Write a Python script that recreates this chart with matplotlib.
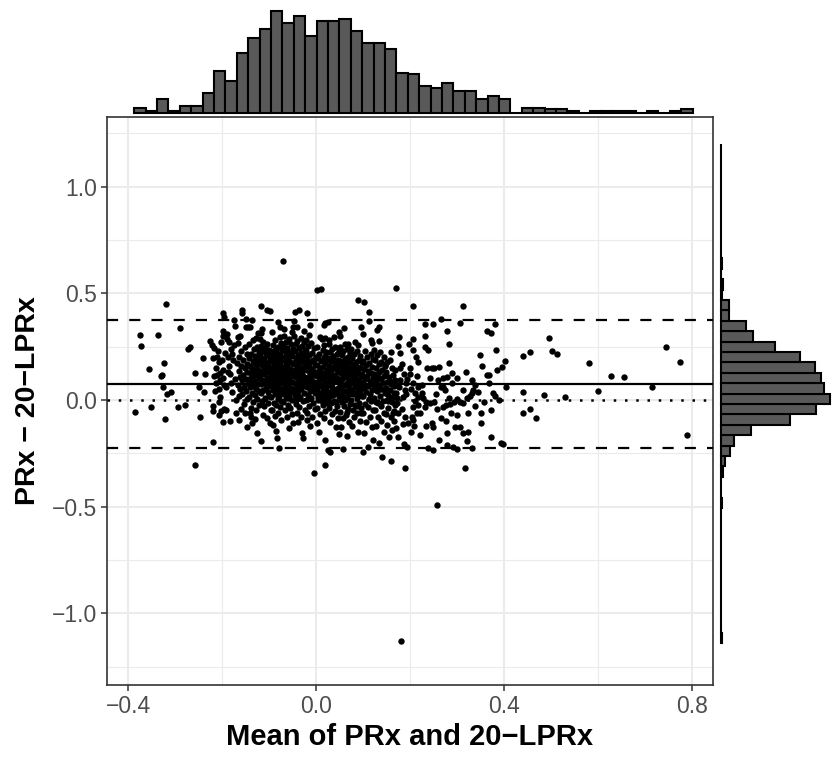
import numpy as np
import matplotlib.pyplot as plt

plt.rcParams['font.family'] = ['Liberation Sans', 'DejaVu Sans']

# Bland-Altman points: (mean of PRx and 20-LPRx, PRx - 20-LPRx)
left_pts = [
    (-0.385, -0.055), (-0.374, 0.305), (-0.372, 0.253), (-0.352, -0.034), (-0.355, 0.145),
    (-0.336, 0.305), (-0.330, 0.112), (-0.327, 0.118), (-0.326, 0.062), (-0.324, 0.172),
    (-0.322, -0.089), (-0.320, 0.450), (-0.317, 0.030), (-0.309, 0.037), (-0.294, -0.034),
    (-0.289, 0.339), (-0.279, -0.022), (-0.272, 0.239), (-0.268, 0.247),
    (-0.257, 0.128), (-0.257, -0.305), (-0.249, 0.062), (-0.247, -0.078),
    (-0.241, 0.195), (-0.238, 0.036), (-0.236, 0.122), (-0.226, 0.278), (-0.221, 0.258),
    (-0.220, 0.195), (-0.220, -0.028), (-0.220, -0.050), (-0.220, -0.197), (-0.218, 0.242),
    (-0.218, 0.112), (-0.216, 0.044),
    (-0.211, 0.200), (-0.211, 0.117), (-0.206, 0.180), (-0.206, -0.008), (-0.206, -0.070),
    (-0.204, 0.125), (-0.204, 0.016), (-0.199, 0.409), (-0.199, 0.323), (-0.199, 0.300),
    (-0.199, 0.102), (-0.199, -0.102), (-0.196, 0.390), (-0.214, 0.150), (-0.212, 0.080),
    (-0.209, 0.230), (-0.207, 0.050), (-0.203, 0.270), (-0.201, 0.190), (-0.198, 0.140),
    (-0.196, 0.070), (-0.195, -0.040), (-0.194, 0.220), (-0.205, 0.095), (-0.202, -0.050),
    (-0.189, 0.309), (-0.190, 0.285), (-0.186, 0.273), (-0.188, 0.200), (-0.185, 0.160),
    (-0.183, 0.120), (-0.181, 0.240), (-0.180, 0.080), (-0.178, 0.040), (-0.176, 0.190),
    (-0.174, 0.375), (-0.172, 0.347), (-0.172, 0.100), (-0.171, 0.000), (-0.170, -0.060),
    (-0.192, -0.047), (-0.184, -0.100), (-0.187, 0.130), (-0.175, 0.260), (-0.191, 0.060),
    (-0.179, 0.215),
]

core_left = [
    (-0.157, 0.422), (-0.157, 0.406), (-0.149, 0.378), (-0.149, 0.344), (-0.167, 0.294),
    (-0.162, 0.300), (-0.145, 0.341), (-0.166, 0.268), (-0.151, 0.247), (-0.160, 0.231),
    (-0.147, 0.214), (-0.164, 0.203), (-0.155, 0.188), (-0.168, 0.176), (-0.146, 0.171),
    (-0.159, 0.158), (-0.152, 0.149), (-0.165, 0.137), (-0.148, 0.131), (-0.156, 0.118),
    (-0.162, 0.106), (-0.150, 0.097), (-0.158, 0.094), (-0.145, 0.081), (-0.167, 0.072),
    (-0.153, 0.063), (-0.161, 0.052), (-0.149, 0.044), (-0.157, 0.028), (-0.164, 0.017),
    (-0.146, 0.004), (-0.154, -0.018), (-0.160, -0.041), (-0.151, -0.063), (-0.163, -0.095),
    (-0.148, -0.128),
    (-0.140, -0.063), (-0.139, -0.078), (-0.137, 0.375), (-0.137, -0.109), (-0.140, 0.341),
    (-0.128, 0.290), (-0.142, 0.262), (-0.125, 0.251), (-0.133, 0.238), (-0.121, 0.226),
    (-0.138, 0.218), (-0.129, 0.207), (-0.143, 0.199), (-0.124, 0.192), (-0.135, 0.184),
    (-0.131, 0.176), (-0.122, 0.169), (-0.141, 0.161), (-0.127, 0.155), (-0.136, 0.147),
    (-0.123, 0.139), (-0.132, 0.133), (-0.139, 0.124), (-0.126, 0.118), (-0.134, 0.111),
    (-0.121, 0.103), (-0.143, 0.097), (-0.129, 0.091), (-0.137, 0.083), (-0.124, 0.075),
    (-0.133, 0.068), (-0.140, 0.059), (-0.127, 0.051), (-0.122, 0.043), (-0.136, 0.035),
    (-0.130, 0.024), (-0.142, 0.012), (-0.125, 0.003), (-0.134, -0.011), (-0.121, -0.024),
    (-0.138, -0.037), (-0.128, -0.048), (-0.131, -0.089), (-0.123, 0.312), (-0.135, 0.281),
    (-0.118, 0.442), (-0.116, 0.333), (-0.118, 0.313), (-0.126, -0.156), (-0.118, -0.192),
    (-0.105, 0.422), (-0.099, 0.419), (-0.098, -0.109), (-0.119, 0.284), (-0.112, 0.271),
    (-0.104, 0.263), (-0.117, 0.252), (-0.108, 0.244), (-0.100, 0.236), (-0.114, 0.229),
    (-0.106, 0.221), (-0.119, 0.214), (-0.101, 0.207), (-0.111, 0.199), (-0.115, 0.192),
    (-0.097, 0.186), (-0.109, 0.178), (-0.118, 0.171), (-0.103, 0.165), (-0.113, 0.158),
    (-0.099, 0.151), (-0.107, 0.144), (-0.116, 0.137), (-0.102, 0.131), (-0.110, 0.124),
    (-0.119, 0.117), (-0.098, 0.110), (-0.105, 0.103), (-0.114, 0.096), (-0.101, 0.089),
    (-0.109, 0.081), (-0.117, 0.073), (-0.097, 0.066), (-0.106, 0.058), (-0.112, 0.049),
    (-0.103, 0.040), (-0.118, 0.031), (-0.100, 0.021), (-0.108, 0.010), (-0.115, -0.003),
    (-0.102, -0.016), (-0.110, -0.030), (-0.096, -0.045), (-0.113, -0.068), (-0.104, -0.086),
    (-0.082, 0.367), (-0.078, -0.224), (-0.085, -0.144), (-0.093, 0.318), (-0.077, 0.296),
    (-0.088, 0.281), (-0.074, 0.268), (-0.091, 0.259), (-0.080, 0.250), (-0.086, 0.241),
    (-0.073, 0.233), (-0.095, 0.226), (-0.083, 0.220), (-0.076, 0.213), (-0.090, 0.207),
    (-0.079, 0.201), (-0.087, 0.195), (-0.074, 0.189), (-0.094, 0.183), (-0.081, 0.178),
    (-0.089, 0.172), (-0.076, 0.166), (-0.084, 0.161), (-0.092, 0.155), (-0.073, 0.150),
    (-0.087, 0.144), (-0.079, 0.139), (-0.095, 0.133), (-0.083, 0.128), (-0.075, 0.122),
    (-0.090, 0.117), (-0.078, 0.111), (-0.086, 0.106), (-0.093, 0.100), (-0.074, 0.095),
    (-0.082, 0.089), (-0.089, 0.083), (-0.077, 0.078), (-0.094, 0.072), (-0.080, 0.066),
    (-0.087, 0.060), (-0.073, 0.054), (-0.091, 0.048), (-0.084, 0.042), (-0.076, 0.035),
    (-0.088, 0.028), (-0.079, 0.021), (-0.095, 0.013), (-0.082, 0.005), (-0.074, -0.004),
    (-0.090, -0.013), (-0.085, -0.023), (-0.077, -0.034), (-0.093, -0.046), (-0.080, -0.059),
    (-0.088, -0.074), (-0.075, -0.092), (-0.091, -0.117), (-0.083, -0.178), (-0.076, 0.342),
    (-0.089, 0.229),
]

core_mid = [
    (-0.071, 0.652), (-0.050, 0.344), (-0.052, 0.320), (-0.048, -0.109), (-0.069, 0.301),
    (-0.058, 0.286), (-0.064, 0.272), (-0.054, 0.263), (-0.070, 0.254), (-0.061, 0.246),
    (-0.049, 0.238), (-0.066, 0.229), (-0.057, 0.221), (-0.063, 0.213), (-0.051, 0.206),
    (-0.068, 0.199), (-0.059, 0.192), (-0.072, 0.186), (-0.055, 0.180), (-0.065, 0.173),
    (-0.050, 0.167), (-0.062, 0.160), (-0.069, 0.154), (-0.056, 0.147), (-0.064, 0.140),
    (-0.053, 0.133), (-0.071, 0.127), (-0.060, 0.120), (-0.048, 0.113), (-0.066, 0.106),
    (-0.057, 0.099), (-0.063, 0.092), (-0.052, 0.085), (-0.070, 0.078), (-0.059, 0.071),
    (-0.067, 0.063), (-0.054, 0.055), (-0.061, 0.047), (-0.049, 0.039), (-0.068, 0.030),
    (-0.058, 0.021), (-0.065, 0.011), (-0.052, 0.001), (-0.070, -0.010), (-0.060, -0.022),
    (-0.055, -0.035), (-0.066, -0.049), (-0.051, -0.064), (-0.062, -0.081), (-0.057, -0.132),
    (-0.069, 0.334), (-0.053, 0.226), (-0.064, 0.118), (-0.058, 0.044),
    (-0.045, 0.414), (-0.036, 0.422), (-0.030, -0.156), (-0.027, -0.180), (-0.038, -0.102),
    (-0.041, 0.344), (-0.046, 0.302), (-0.033, 0.291), (-0.040, 0.279), (-0.025, 0.270),
    (-0.043, 0.261), (-0.029, 0.252), (-0.037, 0.244), (-0.024, 0.236), (-0.044, 0.228),
    (-0.031, 0.220), (-0.039, 0.213), (-0.026, 0.206), (-0.042, 0.199), (-0.034, 0.192),
    (-0.028, 0.185), (-0.045, 0.178), (-0.036, 0.172), (-0.023, 0.165), (-0.041, 0.159),
    (-0.030, 0.152), (-0.038, 0.146), (-0.025, 0.139), (-0.046, 0.133), (-0.033, 0.127),
    (-0.040, 0.120), (-0.027, 0.114), (-0.043, 0.107), (-0.031, 0.101), (-0.037, 0.094),
    (-0.024, 0.087), (-0.044, 0.080), (-0.035, 0.073), (-0.029, 0.066), (-0.042, 0.058),
    (-0.032, 0.050), (-0.039, 0.042), (-0.026, 0.033), (-0.045, 0.024), (-0.034, 0.015),
    (-0.040, 0.005), (-0.028, -0.006), (-0.043, -0.018), (-0.036, -0.031), (-0.024, -0.045),
    (-0.041, -0.060), (-0.031, -0.078), (-0.046, 0.372), (-0.025, 0.325), (-0.035, 0.196),
    (-0.044, 0.143), (-0.028, 0.091), (-0.038, 0.017),
    (-0.019, 0.409), (-0.020, -0.094), (-0.004, -0.341), (-0.012, 0.352), (-0.022, 0.281),
    (-0.010, 0.268), (-0.017, 0.255), (-0.004, 0.243), (-0.021, 0.232), (-0.008, 0.222),
    (-0.014, 0.212), (-0.001, 0.203), (-0.019, 0.194), (-0.006, 0.186), (-0.012, 0.178),
    (-0.023, 0.170), (-0.003, 0.162), (-0.016, 0.155), (-0.009, 0.147), (-0.020, 0.140),
    (-0.002, 0.132), (-0.013, 0.125), (-0.007, 0.117), (-0.018, 0.110), (-0.011, 0.102),
    (-0.022, 0.094), (-0.005, 0.086), (-0.015, 0.078), (-0.001, 0.070), (-0.020, 0.061),
    (-0.008, 0.052), (-0.013, 0.043), (-0.003, 0.033), (-0.017, 0.022), (-0.010, 0.011),
    (-0.021, -0.001), (-0.006, -0.014), (-0.015, -0.028), (-0.002, -0.043), (-0.019, -0.060),
    (-0.009, -0.078), (-0.012, -0.121), (-0.016, 0.306), (-0.005, 0.188), (-0.011, 0.064),
    (-0.018, 0.004),
    (0.003, 0.514), (0.010, 0.521), (0.018, -0.305), (0.001, -0.109), (0.016, 0.352),
    (0.020, 0.360), (0.002, 0.247), (0.014, 0.236), (0.022, 0.226), (0.007, 0.216),
    (0.018, 0.207), (0.004, 0.198), (0.024, 0.189), (0.011, 0.181), (0.019, 0.173),
    (0.003, 0.165), (0.015, 0.157), (0.009, 0.150), (0.023, 0.142), (0.006, 0.135),
    (0.017, 0.128), (0.012, 0.121), (0.001, 0.114), (0.021, 0.107), (0.008, 0.100),
    (0.016, 0.093), (0.004, 0.086), (0.024, 0.079), (0.013, 0.072), (0.010, 0.065),
    (0.020, 0.057), (0.002, 0.050), (0.015, 0.042), (0.007, 0.034), (0.022, 0.026),
    (0.011, 0.017), (0.018, 0.008), (0.005, -0.002), (0.023, -0.013), (0.014, -0.025),
    (0.003, -0.038), (0.019, -0.052), (0.009, -0.067), (0.016, -0.085), (0.006, -0.150),
    (0.013, 0.285), (0.009, 0.294), (0.019, 0.289), (0.016, 0.258), (0.019, -0.188),
    (0.008, 0.111), (0.021, 0.048), (0.004, 0.014), (0.017, 0.199), (0.012, -0.004),
]

core_right = [
    (0.026, 0.364), (0.028, 0.281), (0.026, -0.234), (0.030, -0.242), (0.027, 0.262),
    (0.041, 0.251), (0.034, 0.241), (0.048, 0.232), (0.030, 0.223), (0.044, 0.214),
    (0.037, 0.206), (0.026, 0.198), (0.046, 0.190), (0.032, 0.182), (0.040, 0.175),
    (0.049, 0.168), (0.028, 0.161), (0.036, 0.154), (0.043, 0.147), (0.031, 0.140),
    (0.047, 0.133), (0.025, 0.126), (0.039, 0.119), (0.034, 0.112), (0.045, 0.105),
    (0.029, 0.098), (0.042, 0.091), (0.037, 0.084), (0.050, 0.077), (0.027, 0.070),
    (0.033, 0.063), (0.046, 0.056), (0.040, 0.048), (0.030, 0.040), (0.044, 0.032),
    (0.036, 0.023), (0.048, 0.014), (0.026, 0.005), (0.039, -0.005), (0.032, -0.016),
    (0.045, -0.027), (0.028, -0.039), (0.041, -0.052), (0.035, -0.066), (0.047, -0.082),
    (0.030, -0.101), (0.043, -0.125), (0.049, 0.320), (0.038, 0.294), (0.033, 0.088),
    (0.045, 0.150), (0.029, 0.021), (0.042, -0.010), (0.036, 0.199), (0.048, -0.160),
    (0.060, 0.336), (0.062, 0.263), (0.069, 0.263), (0.058, -0.231), (0.052, 0.250),
    (0.066, 0.240), (0.058, 0.229), (0.072, 0.219), (0.055, 0.210), (0.069, 0.201),
    (0.061, 0.193), (0.051, 0.185), (0.073, 0.177), (0.057, 0.169), (0.064, 0.162),
    (0.054, 0.155), (0.070, 0.148), (0.060, 0.141), (0.067, 0.134), (0.053, 0.127),
    (0.074, 0.120), (0.058, 0.113), (0.063, 0.106), (0.056, 0.099), (0.071, 0.092),
    (0.050, 0.085), (0.065, 0.078), (0.059, 0.071), (0.068, 0.064), (0.054, 0.057),
    (0.073, 0.050), (0.061, 0.043), (0.057, 0.035), (0.070, 0.027), (0.052, 0.019),
    (0.066, 0.010), (0.062, 0.001), (0.055, -0.009), (0.072, -0.019), (0.059, -0.030),
    (0.067, -0.042), (0.051, -0.055), (0.064, -0.069), (0.058, -0.085), (0.071, -0.104),
    (0.054, -0.128), (0.066, -0.170), (0.062, 0.174), (0.056, 0.046), (0.069, 0.118),
    (0.053, -0.001), (0.073, 0.088), (0.060, 0.016), (0.065, -0.058), (0.052, 0.302),
    (0.063, 0.131),
    (0.089, 0.469), (0.096, 0.341), (0.075, 0.241), (0.088, 0.229), (0.081, 0.218),
    (0.094, 0.207), (0.077, 0.197), (0.091, 0.188), (0.084, 0.180), (0.097, 0.172),
    (0.079, 0.164), (0.087, 0.156), (0.093, 0.149), (0.076, 0.141), (0.085, 0.134),
    (0.090, 0.127), (0.080, 0.120), (0.096, 0.113), (0.083, 0.106), (0.078, 0.099),
    (0.092, 0.092), (0.086, 0.085), (0.074, 0.078), (0.095, 0.071), (0.082, 0.064),
    (0.089, 0.057), (0.077, 0.049), (0.093, 0.042), (0.084, 0.034), (0.079, 0.026),
    (0.097, 0.017), (0.087, 0.008), (0.075, -0.002), (0.091, -0.013), (0.083, -0.024),
    (0.095, -0.036), (0.078, -0.049), (0.088, -0.063), (0.081, -0.079), (0.094, -0.098),
    (0.076, -0.121), (0.090, -0.150), (0.085, 0.060), (0.092, 0.022), (0.079, 0.152),
    (0.096, -0.060), (0.083, 0.270), (0.090, 0.258), (0.087, -0.030),
    (0.103, 0.461), (0.113, 0.413), (0.113, 0.372), (0.117, 0.281), (0.101, -0.242),
    (0.111, -0.219), (0.122, -0.188), (0.099, 0.309), (0.104, 0.228), (0.116, 0.215),
    (0.109, 0.203), (0.121, 0.192), (0.100, 0.182), (0.113, 0.172), (0.106, 0.163),
    (0.119, 0.154), (0.102, 0.145), (0.111, 0.137), (0.117, 0.129), (0.098, 0.121),
    (0.108, 0.113), (0.122, 0.105), (0.105, 0.097), (0.114, 0.089), (0.101, 0.081),
    (0.118, 0.073), (0.110, 0.065), (0.103, 0.056), (0.120, 0.047), (0.107, 0.038),
    (0.115, 0.028), (0.099, 0.018), (0.112, 0.007), (0.118, -0.005), (0.104, -0.018),
    (0.110, -0.032), (0.121, -0.047), (0.101, -0.063), (0.114, -0.081), (0.107, -0.101),
    (0.119, -0.126), (0.103, -0.155),
    (0.129, 0.328), (0.133, 0.344), (0.140, -0.266), (0.120, 0.269), (0.124, 0.236),
    (0.137, 0.224), (0.130, 0.212), (0.144, 0.201), (0.126, 0.190), (0.139, 0.180),
    (0.133, 0.170), (0.146, 0.160), (0.128, 0.151), (0.141, 0.142), (0.135, 0.133),
    (0.123, 0.124), (0.145, 0.115), (0.131, 0.106), (0.138, 0.097), (0.127, 0.088),
    (0.143, 0.079), (0.134, 0.070), (0.125, 0.061), (0.140, 0.051), (0.129, 0.041),
    (0.146, 0.031), (0.136, 0.020), (0.124, 0.009), (0.142, -0.003), (0.132, -0.016),
    (0.138, -0.030), (0.126, -0.045), (0.144, -0.061), (0.131, -0.079), (0.139, -0.099),
    (0.127, -0.122), (0.145, -0.148), (0.133, -0.200), (0.133, 0.278), (0.136, 0.050),
    (0.128, -0.008),
]

outer_right = [
    (0.170, 0.523), (0.160, -0.285), (0.160, 0.225), (0.147, 0.164), (0.157, 0.188),
    (0.161, 0.149), (0.149, 0.130), (0.163, 0.118), (0.155, 0.107), (0.168, 0.096),
    (0.151, 0.085), (0.160, 0.075), (0.166, 0.065), (0.148, 0.055), (0.158, 0.045),
    (0.170, 0.035), (0.153, 0.024), (0.164, 0.013), (0.150, 0.002), (0.161, -0.010),
    (0.169, -0.023), (0.154, -0.036), (0.165, -0.050), (0.149, -0.065), (0.159, -0.081),
    (0.167, -0.099), (0.152, -0.119), (0.162, -0.142), (0.156, -0.175), (0.171, 0.070),
    (0.157, 0.010), (0.163, -0.060), (0.150, 0.178), (0.168, 0.140), (0.165, 0.032),
    (0.153, -0.005), (0.158, 0.090), (0.170, -0.130),
    (0.189, -0.320), (0.188, -0.206), (0.181, -1.130), (0.174, 0.253), (0.177, 0.294),
    (0.179, 0.219), (0.179, 0.094), (0.188, 0.122), (0.191, 0.081), (0.189, 0.047),
    (0.186, 0.016), (0.172, -0.016), (0.175, -0.063), (0.189, -0.078), (0.175, -0.172),
    (0.193, -0.222), (0.178, 0.150), (0.184, 0.170), (0.192, 0.030), (0.182, -0.040),
    (0.176, 0.060), (0.194, 0.100), (0.185, -0.110), (0.173, 0.010),
    (0.206, 0.439), (0.207, 0.286), (0.198, 0.263), (0.207, 0.234), (0.214, 0.112),
    (0.196, -0.109), (0.207, 0.078), (0.211, 0.031), (0.218, 0.016), (0.207, -0.031),
    (0.218, -0.023), (0.214, -0.063), (0.207, -0.094), (0.204, -0.078), (0.200, 0.150),
    (0.216, 0.180), (0.203, 0.050), (0.210, -0.005), (0.199, 0.120), (0.212, 0.200),
    (0.202, -0.150), (0.217, 0.060), (0.209, -0.120),
    (0.232, 0.356), (0.232, 0.300), (0.232, 0.250), (0.239, 0.234), (0.243, 0.105),
    (0.225, 0.031), (0.228, 0.008), (0.235, -0.008), (0.232, -0.031), (0.234, -0.122),
    (0.221, -0.164), (0.239, -0.226), (0.243, -0.016), (0.226, 0.070), (0.237, 0.150),
    (0.222, -0.060),
    (0.248, 0.356), (0.265, 0.378), (0.249, -0.234), (0.265, -0.085), (0.261, -0.188),
    (0.246, 0.149), (0.251, 0.149), (0.262, 0.153), (0.246, -0.106), (0.248, -0.128),
    (0.258, -0.044), (0.255, 0.030), (0.267, 0.060), (0.252, -0.010), (0.260, 0.095),
    (0.257, -0.492),
    (0.279, 0.322), (0.282, 0.263), (0.284, 0.175), (0.279, -0.209), (0.279, -0.156),
    (0.292, -0.219), (0.270, -0.031), (0.270, 0.102), (0.278, 0.109), (0.289, 0.128),
    (0.271, 0.059), (0.274, 0.047), (0.277, -0.023), (0.285, -0.019), (0.283, 0.010),
    (0.288, -0.060), (0.276, -0.100), (0.290, 0.080),
    (0.306, 0.359), (0.313, 0.442), (0.299, -0.231), (0.299, -0.070), (0.313, 0.047),
    (0.301, 0.102), (0.294, -0.008), (0.299, 0.003), (0.306, -0.008), (0.313, -0.013),
    (0.306, -0.125), (0.312, -0.153), (0.296, -0.125),
    (0.317, -0.317), (0.321, -0.191), (0.331, -0.223), (0.321, 0.008), (0.328, 0.019),
    (0.331, 0.094), (0.338, 0.070), (0.335, 0.047), (0.331, 0.031), (0.324, -0.063),
    (0.324, -0.148), (0.319, 0.130), (0.339, -0.030),
    (0.353, 0.159), (0.352, -0.063), (0.351, -0.106), (0.363, 0.322), (0.363, 0.117),
    (0.345, 0.040), (0.358, -0.010), (0.348, 0.210),
    (0.372, 0.312), (0.369, 0.117), (0.373, -0.047), (0.373, -0.172), (0.384, 0.234),
    (0.382, 0.357), (0.386, 0.141), (0.376, 0.031), (0.381, 0.019), (0.368, 0.080),
    (0.395, 0.156), (0.402, 0.184), (0.393, -0.203), (0.397, -0.206), (0.390, 0.000),
    (0.405, 0.060),
    (0.440, 0.206), (0.455, 0.226), (0.440, 0.037), (0.440, -0.063), (0.455, -0.041),
    (0.468, -0.083), (0.485, 0.025), (0.496, 0.291), (0.503, 0.230), (0.513, 0.216),
    (0.531, 0.016), (0.582, 0.175), (0.600, 0.044), (0.628, 0.111), (0.655, 0.109),
    (0.716, 0.062), (0.745, 0.250), (0.774, 0.180), (0.790, -0.163),
]

# marginal histogram counts
mean_hist_counts = [3, 1, 8, 1, 4, 4, 12, 25, 19, 36,
                    45, 50, 61, 54, 58, 46, 55, 55, 56, 49,
                    42, 42, 38, 24, 23, 16, 15, 18, 13, 13,
                    8, 10, 8, 0, 3, 3, 2, 2, 1, 0,
                    1, 1, 1, 1, 0, 1, 0, 1, 2]
mean_hist_start, mean_hist_width = -0.387, 0.02426

# from bottom (-1.14) to top (1.20)
diff_hist_counts = [1, 0, 0, 0, 0, 0, 0, 0, 0, 0,
                    0, 0, 0, 1, 0, 0, 2, 5, 10, 15,
                    33, 76, 105, 120, 113, 110, 103, 87, 60, 36,
                    28, 9, 9, 1, 2, 0, 1, 0, 0, 0,
                    0, 0, 0, 0, 0, 0, 0, 0]
diff_hist_start, diff_hist_width = -1.140, 0.04876

bias = 0.076
loa_upper = 0.376
loa_lower = -0.224

pts = np.array(left_pts + core_left + core_mid + core_right + outer_right)
mean_vals = pts[:, 0]
diff_vals = pts[:, 1]

W, H = 832, 760
fig = plt.figure(figsize=(W / 100, H / 100), dpi=100)

# main panel (pixel box: x 107-713, y 117-685)
ax = fig.add_axes([107 / W, (H - 685) / H, 606 / W, 568 / H])
ax.set_xlim(-0.445, 0.845)
ax.set_ylim(-1.336, 1.327)
ax.set_xticks([-0.4, 0.0, 0.4, 0.8])
ax.set_xticks([-0.2, 0.2, 0.6], minor=True)
ax.set_yticks([-1.0, -0.5, 0.0, 0.5, 1.0])
ax.set_yticks([-1.25, -0.75, -0.25, 0.25, 0.75, 1.25], minor=True)
ax.grid(which='major', color='#EBEBEB', lw=1.5, zorder=0)
ax.grid(which='minor', color='#EBEBEB', lw=0.8, zorder=0)
ax.set_axisbelow(True)
for s in ax.spines.values():
    s.set_color('#333333')
    s.set_linewidth(1.2)
ax.tick_params(which='major', length=4, width=1.1, color='#333333',
               labelsize=16.5, labelcolor='#4D4D4D', pad=3)
ax.tick_params(which='minor', length=0)

ax.scatter(mean_vals, diff_vals, s=21, c='black', linewidths=0, zorder=3)
ax.axhline(bias, color='black', lw=1.6, zorder=4)
ax.axhline(loa_upper, color='black', lw=1.6, ls=(0, (5, 5)), zorder=4)
ax.axhline(loa_lower, color='black', lw=1.6, ls=(0, (5, 5)), zorder=4)
ax.axhline(0, color='black', lw=1.8, ls=(0, (1, 3.5)), zorder=4)

ax.set_xlabel('Mean of PRx and 20\u2212LPRx', fontsize=21, fontweight='bold', labelpad=4)
ax.set_ylabel('PRx \u2212 20\u2212LPRx', fontsize=20.5, fontweight='bold', labelpad=8)

# top marginal histogram
axt = fig.add_axes([107 / W, (H - 112.7) / H, 606 / W, 112.7 / H])
edges_m = mean_hist_start + mean_hist_width * np.arange(len(mean_hist_counts))
bars_t = axt.bar(edges_m, mean_hist_counts, width=mean_hist_width, align='edge',
                 color='#595959', edgecolor='black', lw=1.5)
for b in bars_t:
    b.set_clip_on(False)
axt.set_xlim(ax.get_xlim())
axt.set_ylim(0, 61 * 112.7 / 101.7)
axt.axis('off')

# right marginal histogram
axr = fig.add_axes([720.7 / W, (H - 685) / H, (W - 720.7) / W, 568 / H])
edges_d = diff_hist_start + diff_hist_width * np.arange(len(diff_hist_counts))
bars_r = axr.barh(edges_d, diff_hist_counts, height=diff_hist_width, align='edge',
                  color='#595959', edgecolor='black', lw=1.5)
for b in bars_r:
    b.set_clip_on(False)
axr.set_ylim(ax.get_ylim())
axr.set_xlim(0, 120 * 111.3 / 109.3)
axr.axis('off')

fig.savefig('out.png', dpi=100)
